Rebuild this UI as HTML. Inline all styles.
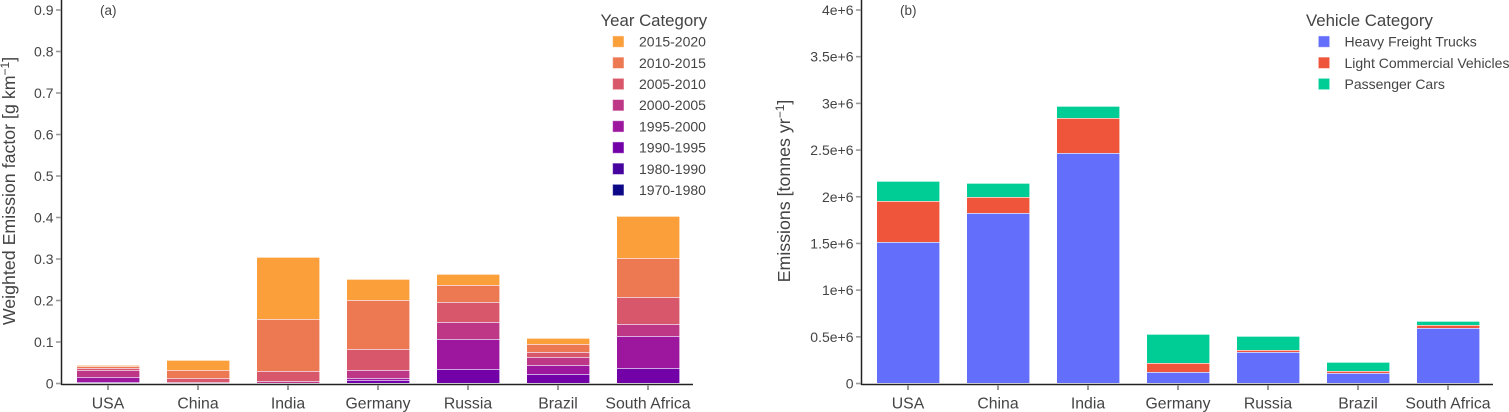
<!DOCTYPE html>
<html lang="en">
<head>
<meta charset="utf-8">
<title>Emission factors and emissions by country</title>
<style>
html,body{margin:0;padding:0;background:#fff;width:1509px;height:412px;overflow:hidden}
svg{display:block;font-family:"Liberation Sans",Arial,sans-serif}
text{fill:#444}
</style>
</head>
<body>
<svg id="figure" width="1509" height="412" viewBox="0 0 1509 412" xmlns="http://www.w3.org/2000/svg"></svg>
<script>
const countries = ['USA','China','India','Germany','Russia','Brazil','South Africa'];

const yearCategories = ['1990-1995','1995-2000','2000-2005','2005-2010','2010-2015','2015-2020'];
const ef1990 = [0.004,0,0,0.0077,0.034,0.022,0.0366];
const ef1995 = [0.012,0,0,0.0048,0.0723,0.0217,0.077];
const ef2000 = [0.016,0.004,0.006,0.0193,0.041,0.0193,0.029];
const ef2005 = [0.005,0.010,0.0235,0.0506,0.048,0.012,0.065];
const ef2010 = [0.004,0.019,0.125,0.118,0.041,0.0193,0.094];
const ef2015 = [0.003,0.023,0.151,0.0513,0.027,0.0152,0.102];
const efTicks = [0,0.1,0.2,0.3,0.4,0.5,0.6,0.7,0.8,0.9];
const efTickLabels = ['0','0.1','0.2','0.3','0.4','0.5','0.6','0.7','0.8','0.9'];
const yearLegend = ['2015-2020','2010-2015','2005-2010','2000-2005','1995-2000','1990-1995','1980-1990','1970-1980'];

const vehicleCategories = ['Heavy Freight Trucks','Light Commercial Vehicles','Passenger Cars'];
const heavyFreight = [1520000,1830000,2470000,123000,334000,109000,591000];
const lightCommercial = [430000,165000,370000,100000,22000,21000,35000];
const passengerCars = [215000,155000,130000,304000,153000,100000,40000];
const emTicks = [0,500000,1000000,1500000,2000000,2500000,3000000,3500000,4000000];
const emTickLabels = ['0','0.5e+6','1e+6','1.5e+6','2e+6','2.5e+6','3e+6','3.5e+6','4e+6'];

const svgNS = 'http://www.w3.org/2000/svg';
const fig = document.getElementById('figure');
const yearColors = {'2015-2020':'#fb9f3a','2010-2015':'#ed7953','2005-2010':'#d8576b','2000-2005':'#bd3786','1995-2000':'#9c179e','1990-1995':'#7201a8','1980-1990':'#46039f','1970-1980':'#0d0887'};
const vehicleColors = ['#636efa','#ef553b','#00cc96'];

function make(tag, attrs, parent){
  const el = document.createElementNS(svgNS, tag);
  for (const k in attrs) el.setAttribute(k, attrs[k]);
  (parent || fig).appendChild(el);
  return el;
}
function yScale(v, maxV, maxPx){ return 383.5 - v / maxV * maxPx; }

function drawAxes(x0, ticks, labels, scale, prefix){
  const yAxis = make('line',{x1:x0,x2:x0,y1:0,y2:385,stroke:'#222','stroke-width':1.5});
  
  
  const xAxis = make('line',{x1:x0,x2:x0+631.5,y1:384.5,y2:384.5,stroke:'#222','stroke-width':1.5});
  
  
  ticks.forEach((t,i)=>{
    const y = scale(t);
    const tick = make('line',{x1:x0-5.5,x2:x0-0.7,y1:y,y2:y,stroke:'#999','stroke-width':1.6});
    
    
    const lab = make('text',{x:x0-8,y:y+5,'text-anchor':'end','font-size':14});
    lab.textContent = labels[i];
    
    
  });
  countries.forEach((c,i)=>{
    const cx = x0 + 46.5 + i * 90;
    const tick = make('line',{x1:cx,x2:cx,y1:385,y2:390,stroke:'#999','stroke-width':2});
    
    
    const lab = make('text',{x:cx,y:408.5,'text-anchor':'middle','font-size':15.8});
    lab.textContent = c;
    
    
  });
}

function drawStack(x0, series, colors, scale, prefix){
  countries.forEach((c,i)=>{
    let base = 0;
    const left = x0 + 15.5 + i * 90;
    series.forEach((vals,s)=>{
      const v = vals[i];
      if (v <= 0) return;
      const yTop = Math.round(scale(base + v));
      const yBot = base === 0 ? Math.round(scale(0)) - 1 : Math.round(scale(base));
      const h = Math.max(yBot - yTop, 1);
      const r = make('rect',{x:left,y:yTop,width:63,height:h,fill:colors[s],'shape-rendering':'crispEdges'});
      
      
      const topEdge = make('rect',{x:left,y:yTop,width:63,height:1,fill:'#fff','fill-opacity':0.65,'shape-rendering':'crispEdges'});
      
      
      const rightEdge = make('rect',{x:left+62,y:yTop,width:1,height:h,fill:'#fff','fill-opacity':0.6,'shape-rendering':'crispEdges'});
      
      
      base += v;
    });
  });
}

function drawTitle(x, y, main, sup, name){
  const t = make('text',{transform:'translate('+x+','+y+') rotate(-90)','text-anchor':'middle','font-size':17.8});
  
  
  t.appendChild(document.createTextNode(main));
  const s = make('tspan',{dy:-6,'font-size':12},t);
  s.textContent = sup;
  const e = make('tspan',{dy:6},t);
  e.textContent = ']';
}

function drawLegend(title, titleX, entries, colorFor, swatchX, textX, prefix, fontSize){
  const head = make('text',{x:titleX,y:26,'font-size':16.8});
  head.textContent = title;
  
  
  entries.forEach((name,i)=>{
    const cy = 41.6 + i * 21.2;
    const g = make('g',{});
    
    
    const sw = make('rect',{x:swatchX,y:cy-5.7,width:11.4,height:11.4,fill:colorFor(name,i),stroke:'#fff','stroke-opacity':0.5,'stroke-width':1},g);
    
    
    const t = make('text',{x:textX,y:cy+5,'font-size':fontSize},g);
    t.textContent = name;
    
    
  });
}

function panelLabel(x, text, name){
  const t = make('text',{x:x,y:15,'font-size':13.5});
  t.textContent = text;
  
  
}

const scaleA = v => yScale(v, 0.9, 373.5);
const scaleB = v => yScale(v, 4000000, 373.5);

drawStack(61.5, [ef1990,ef1995,ef2000,ef2005,ef2010,ef2015], yearCategories.map(y=>yearColors[y]), scaleA, 'emission-factor');
drawAxes(61.5, efTicks, efTickLabels, scaleA, 'emission-factor');
drawTitle(15, 191, 'Weighted Emission factor [g km', '\u22121', 'emission-factor-y-axis-title');
panelLabel(100, '(a)', 'panel-a-label');
drawLegend('Year Category', 600.5, yearLegend, n=>yearColors[n], 612.6, 639, 'year', 14);

drawStack(861.5, [heavyFreight,lightCommercial,passengerCars], vehicleColors, scaleB, 'emissions');
drawAxes(861.5, emTicks, emTickLabels, scaleB, 'emissions');
drawTitle(790, 191, 'Emissions [tonnes yr', '\u22121', 'emissions-y-axis-title');
panelLabel(900, '(b)', 'panel-b-label');
drawLegend('Vehicle Category', 1306, vehicleCategories, (n,i)=>vehicleColors[i], 1318.3, 1344.5, 'vehicle', 14);
</script>
</body>
</html>
